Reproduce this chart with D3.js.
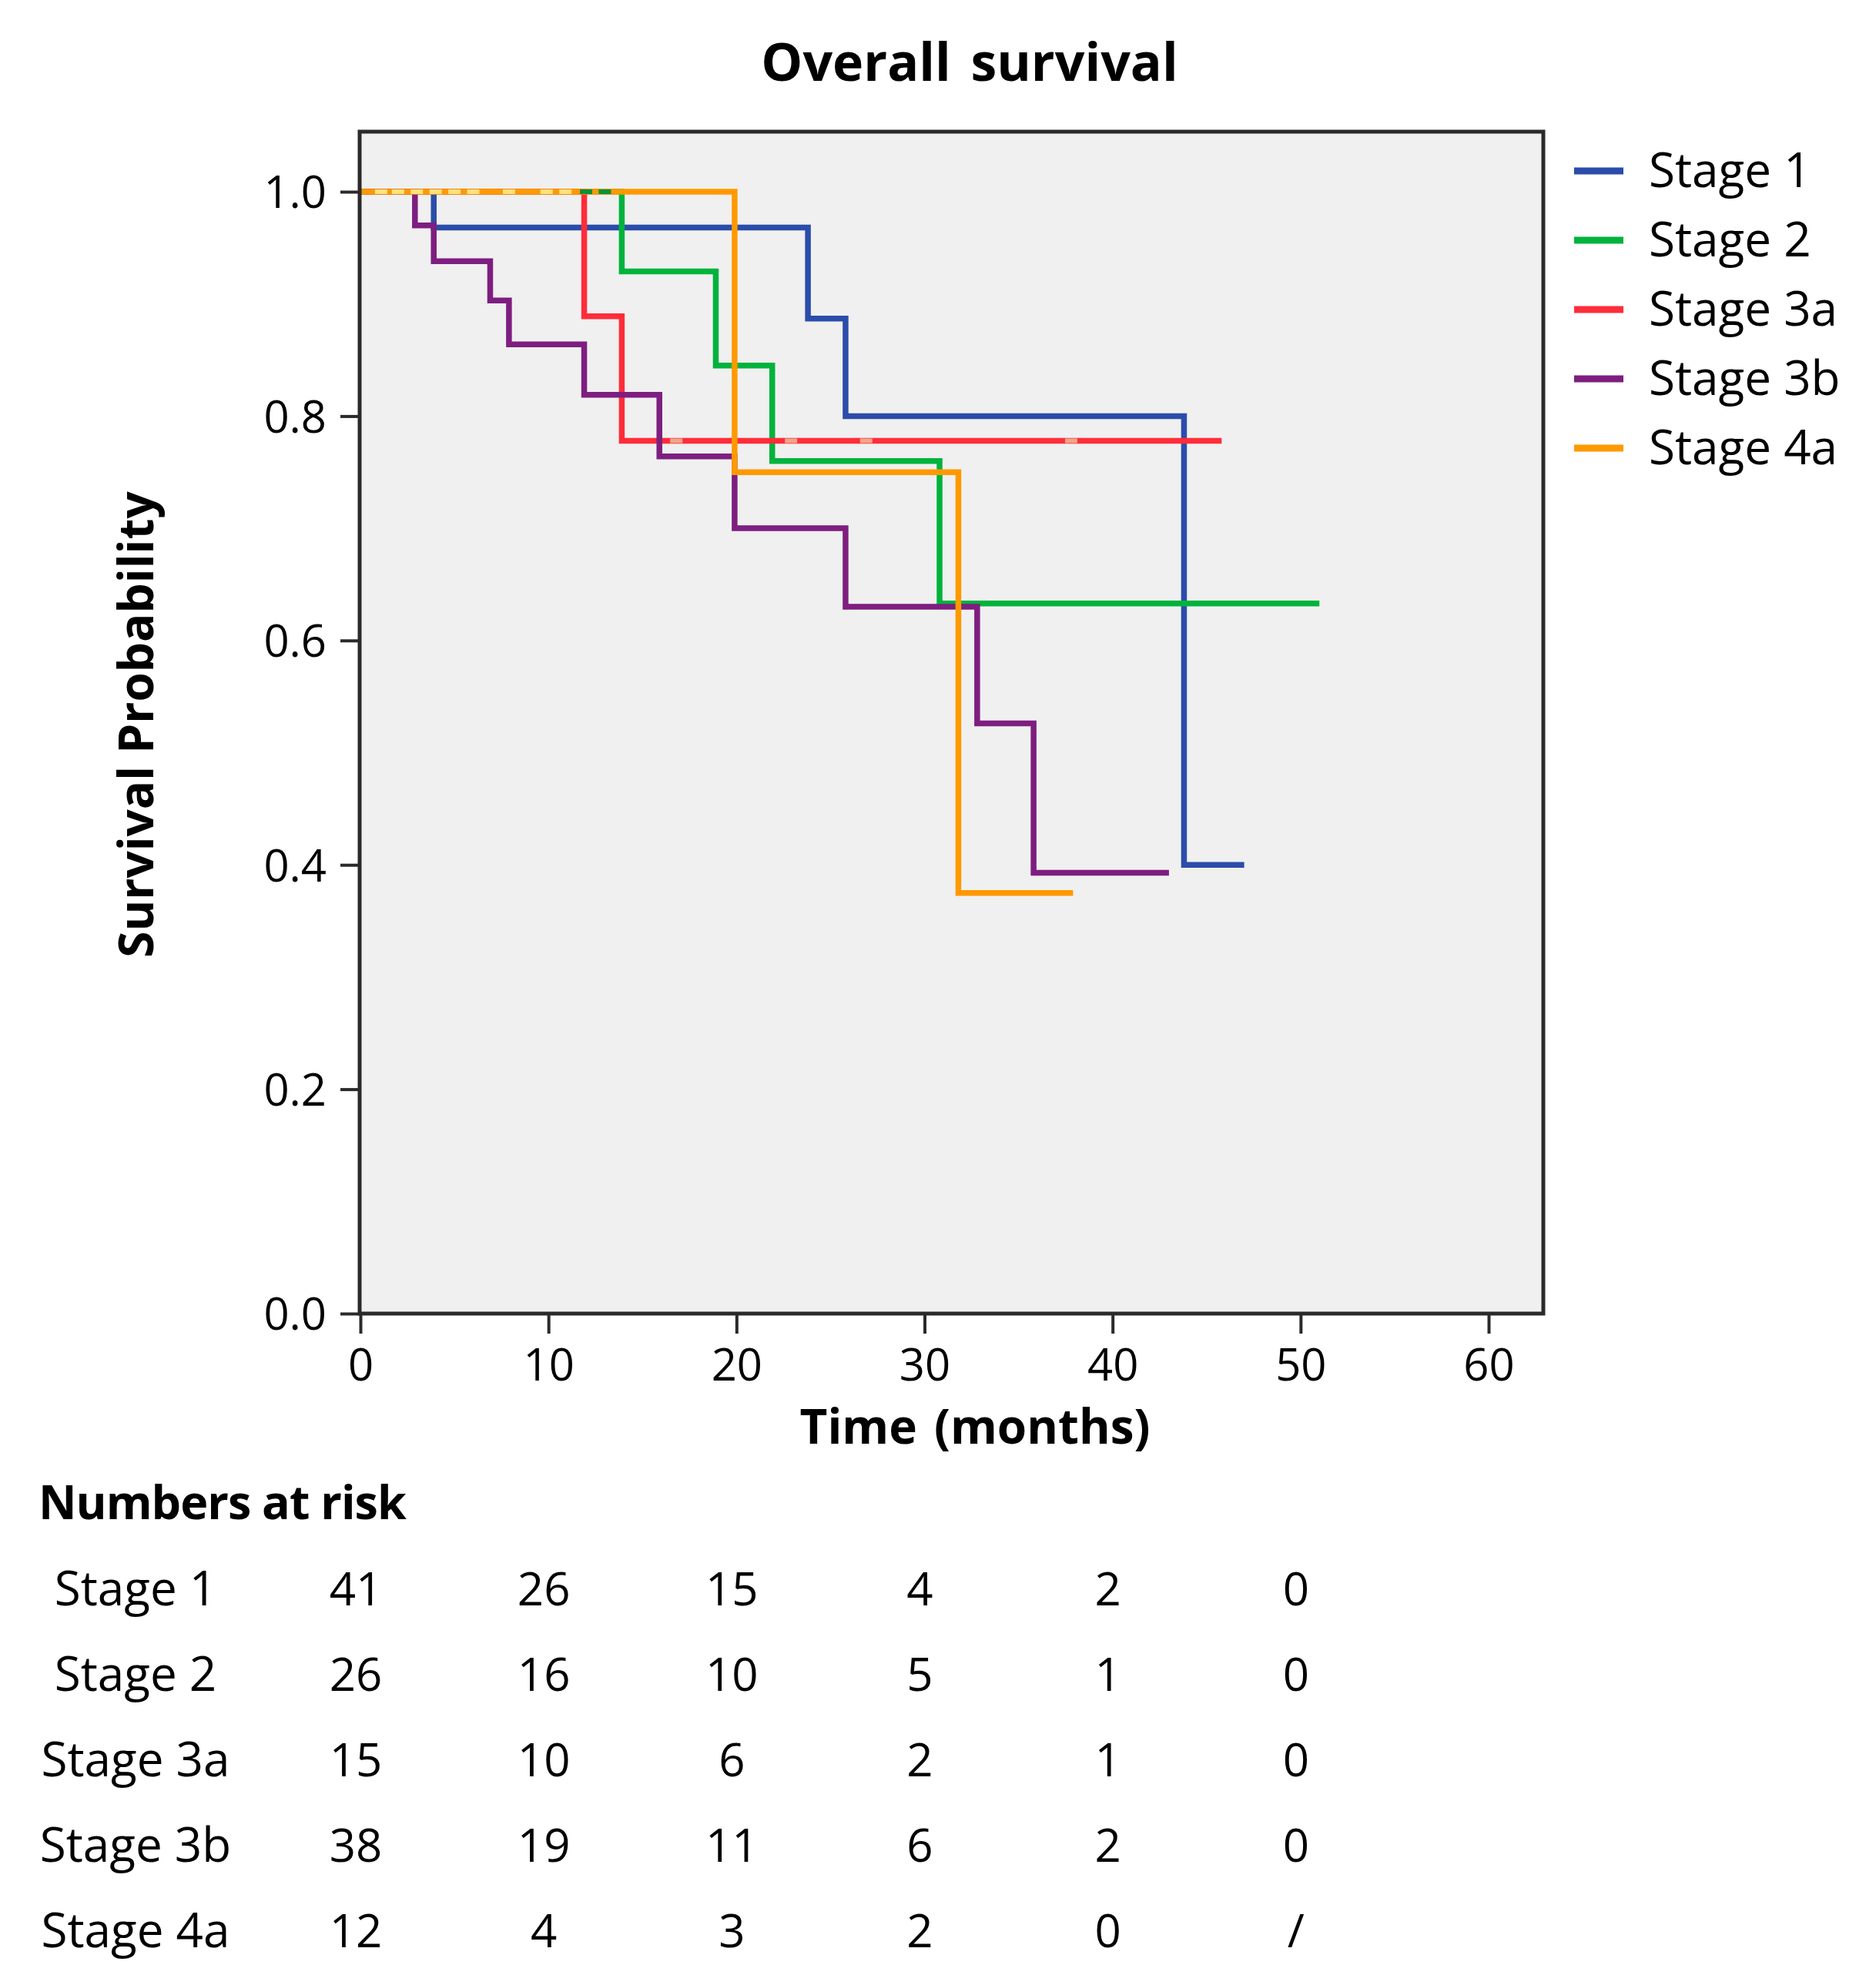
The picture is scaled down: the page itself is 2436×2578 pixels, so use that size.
<!DOCTYPE html>
<html>
<head>
<meta charset="utf-8">
<script src="https://cdn.jsdelivr.net/npm/d3@7/dist/d3.min.js"></script>
<style>
  html, body { margin: 0; padding: 0; background: #ffffff; }
  svg { display: block; }
  text { font-family: "Open Sans", "Noto Sans", sans-serif; fill: #000; }
</style>
</head>
<body>
<script>
// ---------------- DATA ----------------
const stageNames = ["Stage 1", "Stage 2", "Stage 3a", "Stage 3b", "Stage 4a"];
const stageColors = ["#2B4DAA", "#00B33C", "#FF2D3A", "#7E1E80", "#FF9900"];
const censorColors = ["#8FA3E0", "#0E8F36", "#F2A58A", "#C08AC0", "#FFE27A"];

// step times (months) and survival after each step; last entry = end of follow-up
const stage1Times = [0, 3.9, 23.8, 25.8, 43.8, 47.0];
const stage1Surv  = [1, 0.968, 0.887, 0.800, 0.400, 0.400];
const stage2Times = [0, 13.9, 18.9, 21.9, 30.8, 51.0];
const stage2Surv  = [1, 0.929, 0.845, 0.760, 0.633, 0.633];
const stage3aTimes = [0, 11.9, 13.9, 45.8];
const stage3aSurv  = [1, 0.889, 0.778, 0.778];
const stage3bTimes = [0, 2.9, 3.9, 6.9, 7.9, 11.9, 15.9, 19.9, 25.8, 32.8, 35.8, 43.0];
const stage3bSurv  = [1, 0.970, 0.938, 0.903, 0.864, 0.819, 0.764, 0.700, 0.630, 0.526, 0.393, 0.393];
const stage4aTimes = [0, 19.9, 31.8, 37.9];
const stage4aSurv  = [1, 0.750, 0.375, 0.375];

// censoring marks (months)
const stage1Censor = [];
const stage2Censor = [12.0, 13.0];
const stage3aCensor = [16.8, 22.9, 26.9, 37.8];
const stage3bCensor = [];
const stage4aCensor = [1.1, 2.0, 3.0, 4.0, 5.0, 6.0, 7.9, 9.9, 10.9];

const xTicks = [0, 10, 20, 30, 40, 50, 60];
const yTicks = [0.0, 0.2, 0.4, 0.6, 0.8, 1.0];

const riskTimes = [0, 10, 20, 30, 40, 50];
const riskStage1 = ["41", "26", "15", "4", "2", "0"];
const riskStage2 = ["26", "16", "10", "5", "1", "0"];
const riskStage3a = ["15", "10", "6", "2", "1", "0"];
const riskStage3b = ["38", "19", "11", "6", "2", "0"];
const riskStage4a = ["12", "4", "3", "2", "0", "/"];

const titleText = "Overall survival";
const xLabel = "Time (months)";
const yLabel = "Survival Probability";
const riskTitle = "Numbers at risk";

// ---------------- LAYOUT ----------------
const W = 2436, H = 2578;
const frame = { left: 467, right: 2004, top: 171, bottom: 1706 };

const svg = d3.select("body").append("svg")
  .attr("width", W).attr("height", H).attr("viewBox", `0 0 ${W} ${H}`);

const x = d3.scaleLinear().domain([0, 60]).range([468, 1933]);
const y = d3.scaleLinear().domain([0, 1]).range([1706, 249]);

// plot background
svg.append("rect")
  .attr("x", frame.left).attr("y", frame.top)
  .attr("width", frame.right - frame.left).attr("height", frame.bottom - frame.top)
  .attr("fill", "#F0F0F0");

// title
svg.append("text").attr("x", 1259).attr("y", 105)
  .attr("text-anchor", "middle").attr("font-size", 68).attr("font-weight", 700)
  .attr("word-spacing", 8).text(titleText);

// curves
const series = [
  { t: stage1Times, s: stage1Surv, c: stage1Censor },
  { t: stage2Times, s: stage2Surv, c: stage2Censor },
  { t: stage3aTimes, s: stage3aSurv, c: stage3aCensor },
  { t: stage3bTimes, s: stage3bSurv, c: stage3bCensor },
  { t: stage4aTimes, s: stage4aSurv, c: stage4aCensor }
];

const line = d3.line().x(d => x(d[0])).y(d => y(d[1])).curve(d3.curveStepAfter);

const gLines = svg.append("g");
series.forEach((ser, i) => {
  const pts = ser.t.map((t, k) => [t, ser.s[k]]);
  gLines.append("path")
    .attr("d", line(pts))
    .attr("fill", "none")
    .attr("stroke", stageColors[i])
    .attr("stroke-width", 7.5)
    .attr("stroke-linejoin", "miter")
    .attr("stroke-linecap", "butt");
});

// censor marks
function survAt(ser, t) {
  let v = 1;
  ser.t.forEach((tt, k) => { if (tt <= t) v = ser.s[k]; });
  return v;
}
const gCens = svg.append("g");
series.forEach((ser, i) => {
  ser.c.forEach(t => {
    const yy = y(survAt(ser, t));
    gCens.append("line")
      .attr("x1", x(t) - 8).attr("x2", x(t) + 8)
      .attr("y1", yy).attr("y2", yy)
      .attr("stroke", censorColors[i]).attr("stroke-width", 6);
  });
});

// frame
svg.append("rect")
  .attr("x", frame.left).attr("y", frame.top)
  .attr("width", frame.right - frame.left).attr("height", frame.bottom - frame.top)
  .attr("fill", "none").attr("stroke", "#2a2a2a").attr("stroke-width", 5);

// y axis
const yAxis = d3.axisLeft(y).tickValues(yTicks).tickFormat(d3.format(".1f"))
  .tickSize(25).tickPadding(18);
const gy = svg.append("g").attr("transform", `translate(${frame.left},0)`).call(yAxis);
gy.select(".domain").remove();
gy.selectAll(".tick line").attr("stroke", "#2a2a2a").attr("stroke-width", 4);
gy.selectAll(".tick text").attr("font-size", 58).attr("fill", "#000")
  .attr("font-family", "'Open Sans', sans-serif").attr("dy", "0.36em");

// x axis
const xAxis = d3.axisBottom(x).tickValues(xTicks).tickFormat(d3.format("d"))
  .tickSize(26).tickPadding(20);
const gx = svg.append("g").attr("transform", `translate(0,${frame.bottom})`).call(xAxis);
gx.select(".domain").remove();
gx.selectAll(".tick line").attr("stroke", "#2a2a2a").attr("stroke-width", 4);
gx.selectAll(".tick text").attr("font-size", 58).attr("fill", "#000")
  .attr("font-family", "'Open Sans', sans-serif").attr("dy", "0.71em");

// axis labels
svg.append("text").attr("x", 1266).attr("y", 1875)
  .attr("text-anchor", "middle").attr("font-size", 62).attr("font-weight", 700)
  .attr("word-spacing", 6).text(xLabel);

svg.append("text")
  .attr("transform", "translate(199,941) rotate(-90)")
  .attr("text-anchor", "middle").attr("font-size", 62).attr("font-weight", 700)
  .text(yLabel);

// legend
const gLeg = svg.append("g");
stageNames.forEach((name, i) => {
  const ly = 222 + i * 90;
  gLeg.append("line").attr("x1", 2044).attr("x2", 2108).attr("y1", ly).attr("y2", ly)
    .attr("stroke", stageColors[i]).attr("stroke-width", 9);
  gLeg.append("text").attr("x", 2141).attr("y", ly + 21)
    .attr("font-size", 62).text(name);
});

// numbers at risk table
svg.append("text").attr("x", 50).attr("y", 1973)
  .attr("font-size", 61).attr("font-weight", 700).attr("letter-spacing", -1).text(riskTitle);

const riskRows = [riskStage1, riskStage2, riskStage3a, riskStage3b, riskStage4a];
const gRisk = svg.append("g");
riskRows.forEach((row, r) => {
  const cy = 2063 + r * 111;
  gRisk.append("text").attr("x", 176).attr("y", cy + 22)
    .attr("text-anchor", "middle").attr("font-size", 62).text(stageNames[r]);
  row.forEach((v, k) => {
    gRisk.append("text").attr("x", x(riskTimes[k]) - 6).attr("y", cy + 22)
      .attr("text-anchor", "middle").attr("font-size", 60).text(v);
  });
});
</script>
</body>
</html>
